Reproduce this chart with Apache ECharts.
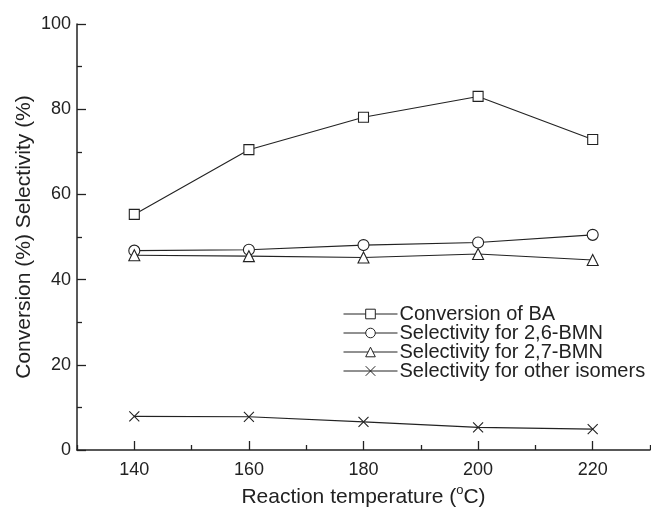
<!DOCTYPE html>
<html>
<head>
<meta charset="utf-8">
<script src="https://cdn.jsdelivr.net/npm/echarts@6/dist/echarts.min.js"></script>
<style>
  html, body { margin: 0; padding: 0; background: #fff; }
  #chart { width: 651px; height: 507px; }
</style>
</head>
<body>
<div id="chart"></div>
<script>
const temps = [140, 160, 180, 200, 220]
const conversionBA = [55.3, 70.5, 78.1, 83.0, 72.9]
const sel26BMN = [46.8, 47.0, 48.1, 48.7, 50.5]
const sel27BMN = [45.7, 45.5, 45.2, 46.0, 44.6]
const selOther = [7.9, 7.8, 6.6, 5.3, 4.9]
const xMajorTicks = [140, 160, 180, 200, 220]
const xMinorTicks = [130, 150, 170, 190, 210, 230]

const pair = vals => temps.map((t, i) => [t, vals[i]])
const font = "'Liberation Sans', Arial, sans-serif"
const ink = '#222'
const crossPath = 'path://M0,0L10,10M10,0L0,10'

const mkSeries = (name, data, symbol, size) => ({
  name: name,
  type: 'line',
  data: pair(data),
  symbol: symbol,
  symbolSize: size,
  lineStyle: { color: ink, width: 1.1 },
  itemStyle: { color: symbol === crossPath ? 'none' : '#fff', borderColor: ink, borderWidth: 1.1 },
  emphasis: { disabled: true }
})

var myChart = echarts.init(document.getElementById('chart'))
myChart.setOption({
  animation: false,
  textStyle: { fontFamily: font, color: ink },
  grid: { left: 77, right: 1, top: 24, bottom: 57, containLabel: false, outerBoundsMode: 'none' },
  legend: {
    orient: 'vertical',
    left: 343,
    top: 304,
    padding: 0,
    itemWidth: 54,
    itemHeight: 12,
    itemGap: -1,
    itemStyle: { borderWidth: 1 },
    lineStyle: { width: 1 },
    textStyle: { fontSize: 20, color: ink, fontFamily: font, padding: [0, 0, 0, -3] },
    data: ['Conversion of BA', 'Selectivity for 2,6-BMN', 'Selectivity for 2,7-BMN', 'Selectivity for other isomers']
  },
  xAxis: [
    {
      type: 'value',
      min: 130,
      max: 230,
      name: 'Reaction temperature ({sup|o}C)',
      nameLocation: 'middle',
      nameGap: 34,
      nameTextStyle: {
        fontSize: 21, lineHeight: 26, color: ink, fontFamily: font,
        rich: { sup: { fontSize: 13, lineHeight: 13, verticalAlign: 'top', color: ink, fontFamily: font } }
      },
      axisLine: { lineStyle: { color: ink, width: 1.5 } },
      axisTick: { inside: true, length: 9, customValues: xMajorTicks, lineStyle: { color: ink, width: 1.3 } },
      axisLabel: { customValues: xMajorTicks, margin: 11, fontSize: 18, color: ink, fontFamily: font },
      splitLine: { show: false }
    },
    {
      type: 'value',
      min: 130,
      max: 230,
      position: 'bottom',
      axisLine: { show: false },
      axisTick: { inside: true, length: 5, customValues: xMinorTicks, lineStyle: { color: ink, width: 1.3 } },
      axisLabel: { show: false },
      splitLine: { show: false }
    }
  ],
  yAxis: {
    type: 'value',
    min: 0,
    max: 100,
    interval: 20,
    name: 'Conversion (%) Selectivity (%)',
    nameLocation: 'middle',
    nameGap: 42,
    nameMoveOverlap: false,
    nameTextStyle: { fontSize: 21, color: ink, fontFamily: font },
    axisLine: { show: true, lineStyle: { color: ink, width: 1.5 } },
    axisTick: { show: true, inside: true, length: 9, lineStyle: { color: ink, width: 1.3 } },
    minorTick: { show: true, splitNumber: 2, length: 5, lineStyle: { color: ink, width: 1.3 } },
    axisLabel: { margin: 6, fontSize: 18, color: ink, fontFamily: font },
    splitLine: { show: false }
  },
  series: [
    mkSeries('Conversion of BA', conversionBA, 'rect', 10),
    mkSeries('Selectivity for 2,6-BMN', sel26BMN, 'circle', 11),
    mkSeries('Selectivity for 2,7-BMN', sel27BMN, 'triangle', 11),
    mkSeries('Selectivity for other isomers', selOther, crossPath, 10)
  ]
})
</script>
</body>
</html>
